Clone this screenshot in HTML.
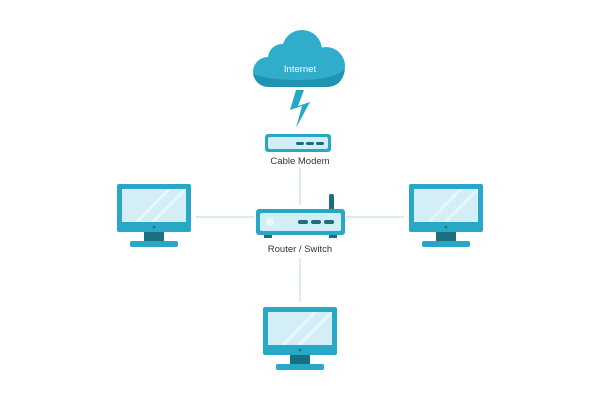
<!DOCTYPE html>
<html><head><style>body{margin:0;background:#fff}svg{display:block}</style></head><body>
<svg width="600" height="400" viewBox="0 0 600 400" xmlns="http://www.w3.org/2000/svg">
<defs>
<g id="mon">
<rect x="0" y="0" width="74" height="48" rx="2" fill="#28a8c6"/>
<rect x="5" y="5" width="64" height="33" fill="#d4eef7"/>
<path d="M18 38 L50 5 L54 5 L22 38Z M34 38 L67 5 L69 5 L69 7 L38 38Z" fill="#e9f7fb"/>
<circle cx="37" cy="43" r="1.3" fill="#1a6f80"/>
<rect x="27" y="48" width="20" height="9" fill="#1a6f80"/>
<rect x="13" y="57" width="48" height="6" rx="2" fill="#28a8c6"/>
</g>
</defs>
<g stroke="#c5dfe8" stroke-width="1.2">
<line x1="196" y1="217" x2="254" y2="217"/>
<line x1="346" y1="217" x2="404" y2="217"/>
<line x1="300" y1="168" x2="300" y2="205"/>
<line x1="300" y1="258" x2="300" y2="302"/>
</g>
<!-- cloud -->
<g fill="#2fadcb">
<circle cx="268" cy="72" r="15"/>
<circle cx="282" cy="58" r="14"/>
<circle cx="302" cy="50" r="20"/>
<circle cx="326" cy="66" r="19"/>
<rect x="268" y="60" width="60" height="27"/>
</g>
<path d="M253 74 Q256 84 268 87 L328 87 Q342 86 345 70 Q330 80 300 80 Q270 80 253 74Z" fill="#1f93b0"/>
<text x="300" y="72" font-family="Liberation Sans, sans-serif" font-size="9.5" fill="#fff" text-anchor="middle">Internet</text>
<!-- lightning -->
<polygon points="296,90 290,110 302,106 296,128 310,102 298,106 304,90" fill="#28a8c6"/>
<!-- modem -->
<rect x="265" y="134" width="66" height="18" rx="3" fill="#28a8c6"/>
<rect x="268" y="137" width="60" height="12" rx="2" fill="#d4eef7"/>
<rect x="296" y="142" width="8" height="3" rx="1.5" fill="#1a6f80"/>
<rect x="306" y="142" width="8" height="3" rx="1.5" fill="#1a6f80"/>
<rect x="316" y="142" width="8" height="3" rx="1.5" fill="#1a6f80"/>
<text x="300" y="164" font-family="Liberation Sans, sans-serif" font-size="9.5" fill="#333" text-anchor="middle">Cable Modem</text>
<!-- router -->
<rect x="329" y="194" width="5" height="18" rx="2" fill="#1a6f80"/>
<rect x="256" y="209" width="89" height="26" rx="3" fill="#28a8c6"/>
<rect x="260" y="213" width="81" height="18" rx="2" fill="#d4eef7"/>
<circle cx="270" cy="222" r="4" fill="#eef8fb"/>
<rect x="298" y="220" width="10" height="4" rx="2" fill="#1a6f80"/>
<rect x="311" y="220" width="10" height="4" rx="2" fill="#1a6f80"/>
<rect x="324" y="220" width="10" height="4" rx="2" fill="#1a6f80"/>
<rect x="264" y="235" width="8" height="3" fill="#1a6f80"/>
<rect x="329" y="235" width="8" height="3" fill="#1a6f80"/>
<text x="300" y="252" font-family="Liberation Sans, sans-serif" font-size="9.5" fill="#333" text-anchor="middle">Router / Switch</text>
<use href="#mon" x="117" y="184"/>
<use href="#mon" x="409" y="184"/>
<use href="#mon" x="263" y="307"/>
</svg>
</body></html>
